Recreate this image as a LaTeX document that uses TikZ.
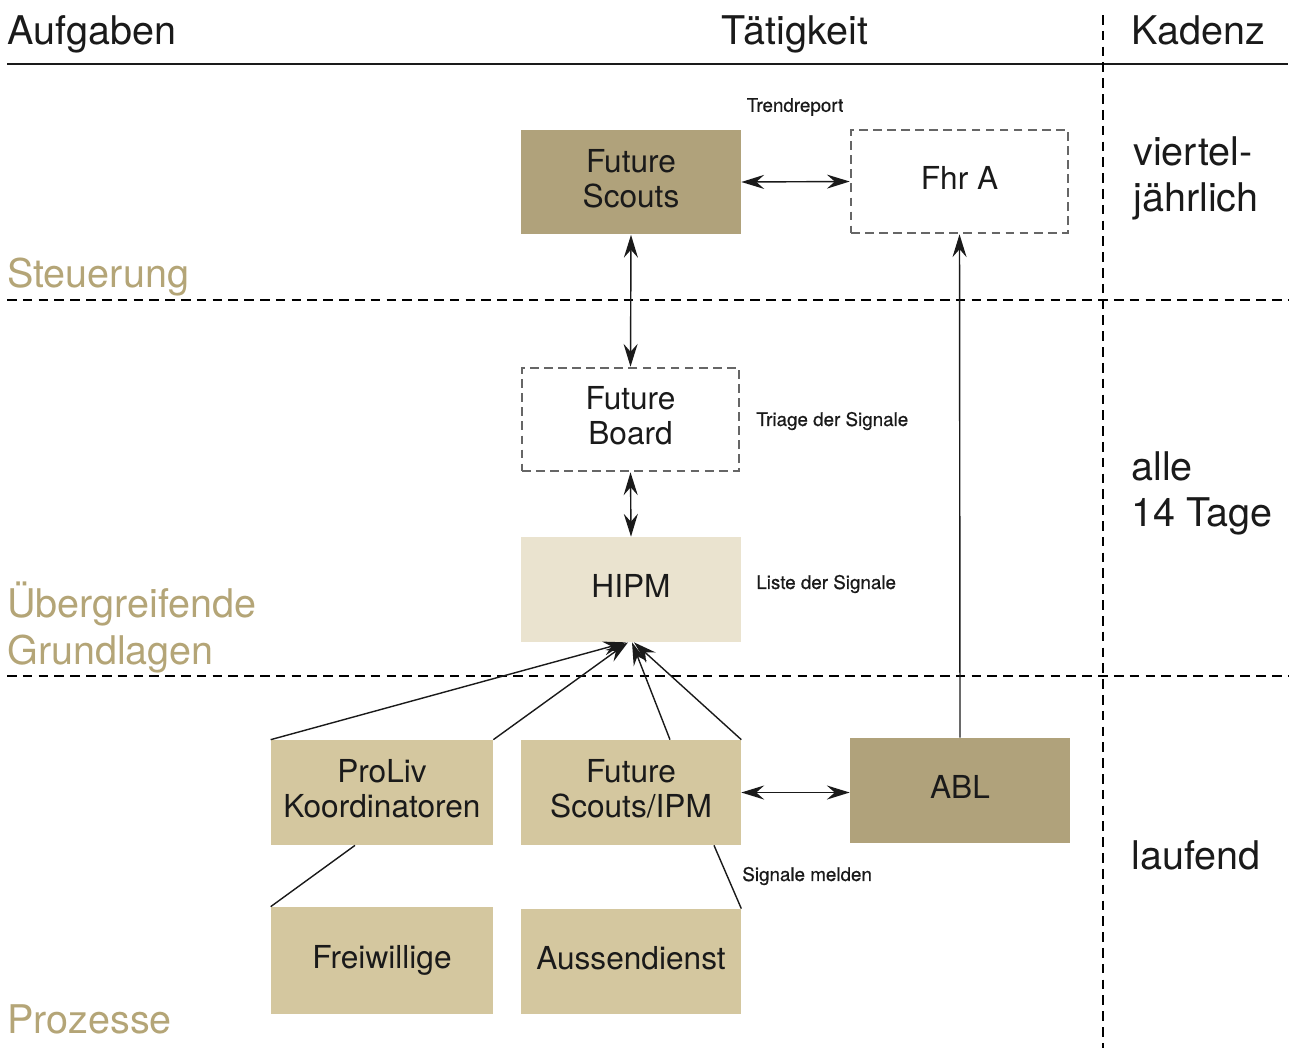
\documentclass[tikz,border=0pt]{standalone}
\usepackage{fontspec}
\setmainfont{TeX Gyre Heros}
\usetikzlibrary{arrows.meta}
\definecolor{darktan}{HTML}{B0A27B}
\definecolor{midtan}{HTML}{D4C79F}
\definecolor{lighttan}{HTML}{EAE3CF}
\definecolor{labeltan}{HTML}{B4A577}
\definecolor{boxgray}{HTML}{666666}
\definecolor{ink}{HTML}{1A1A1A}
\begin{document}
\begin{tikzpicture}[x=0.02cm,y=-0.02cm,
  box/.style={minimum width=4.4cm, minimum height=2.1cm, inner sep=0pt, align=center,
     font=\fontsize{18}{20}\selectfont, text=ink, text depth=4.5pt},
  dbox/.style={box, draw=boxgray, line width=1.5pt, dash pattern=on 5pt off 3pt},
  head/.style={inner sep=0pt, anchor=base, font=\fontsize{22.5}{26}\selectfont, text=ink, align=left},
  sect/.style={inner sep=0pt, anchor=base west, font=\fontsize{22.5}{26.5}\selectfont, text=labeltan, align=left},
  small/.style={inner sep=0pt, font=\fontsize{10.7}{12}\selectfont\addfontfeatures{FakeBold=0.6}, text=ink},
  sep/.style={line width=1.2pt, dash pattern=on 5.5pt off 3.5pt},
  conn/.style={line width=0.8pt, draw=ink},
  tip/.style={-{Stealth[length=13pt,width=8pt,inset=4.5pt]}},
  tips/.style={{Stealth[length=13pt,width=8pt,inset=4.5pt]}-{Stealth[length=13pt,width=8pt,inset=4.5pt]}}
]
\useasboundingbox (0,0) rectangle (1290,1048);

% header
\coordinate (hl) at (7,64);
\coordinate (hr) at (1288,64);
\draw[line width=1.4pt, ink] (hl) -- (hr);
\node[head, anchor=base west] (aufg) at (7,44) {Aufgaben};
\node[head] (taet) at (795,44) {Tätigkeit};
\node[head, anchor=base west] (kad) at (1131,44) {Kadenz};

% separators
\coordinate (s1l) at (7,300); \coordinate (s1r) at (1288,300);
\coordinate (s2l) at (7,676); \coordinate (s2r) at (1288,676);
\coordinate (vt) at (1103,15); \coordinate (vb) at (1103,1048);
\draw[sep] (s1l) -- (s1r);
\draw[sep] (s2l) -- (s2r);
\draw[sep] (vt) -- (vb);

% section labels (base anchor = last line baseline)
\node[sect] (steu) at (7,287) {Steuerung};
\node[sect] (uebg) at (7,664) {Übergreifende\\Grundlagen};
\node[sect] (proz) at (7,1033) {Prozesse};

% cadence
\node[head, anchor=base west] (c1) at (1133,211) {viertel-\\jährlich};
\node[head, anchor=base west] (c2) at (1131,526) {alle\\14 Tage};
\node[head, anchor=base west] (c3) at (1131,869) {laufend};

% boxes
\node[box, fill=darktan] (fs) at (631,182) {Future\\Scouts};
\node[dbox, minimum width=4.34cm, minimum height=2.06cm] (fhr) at (959.5,181.5) {Fhr A};
\node[dbox, minimum width=4.34cm, minimum height=2.06cm] (fb) at (630.5,419.5) {Future\\Board};
\node[box, fill=lighttan] (hipm) at (631,589.5) {HIPM};
\node[box, fill=midtan, minimum width=4.44cm] (pl) at (382,792.5) {ProLiv\\Koordinatoren};
\node[box, fill=midtan] (fsi) at (631,792.5) {Future\\Scouts/IPM};
\node[box, fill=darktan] (abl) at (960,790.5) {ABL};
\node[box, fill=midtan, minimum width=4.44cm, minimum height=2.14cm] (frei) at (382,960.5) {Freiwillige};
\node[box, fill=midtan] (aus) at (631,961.5) {Aussendienst};

% small labels
\node[small] (trend) at (795,107) {Trendreport};
\node[small, anchor=west] (triage) at (756,421) {Triage der Signale};
\node[small, anchor=west] (liste) at (756,584) {Liste der Signale};
\node[small, anchor=west] (melden) at (742,876) {Signale melden};

% connectors
\draw[conn, tips] (fs.east) -- (fhr.west);
\draw[conn, tips] (fs.south) -- (fb.north);
\draw[conn, tips] (fb.south) -- (hipm.north);
\draw[conn, tip] (abl.north) -- (fhr.south);
\draw[conn, tips] (fsi.east) -- (fsi.east -| abl.west);
\draw[conn, tip] (pl.north west) -- ([xshift=-0.1cm]hipm.south);
\draw[conn, tip] (pl.north east) -- ([xshift=-0.06cm]hipm.south);
\draw[conn, tip] ([xshift=0.78cm]fsi.north) -- ([xshift=0.02cm]hipm.south);
\draw[conn, tip] (fsi.north east) -- ([xshift=0.06cm]hipm.south);
\draw[conn] ([xshift=-0.54cm]pl.south) -- (frei.north west);
\draw[conn] ([xshift=1.66cm]fsi.south) -- (aus.north east);
\end{tikzpicture}
\end{document}
